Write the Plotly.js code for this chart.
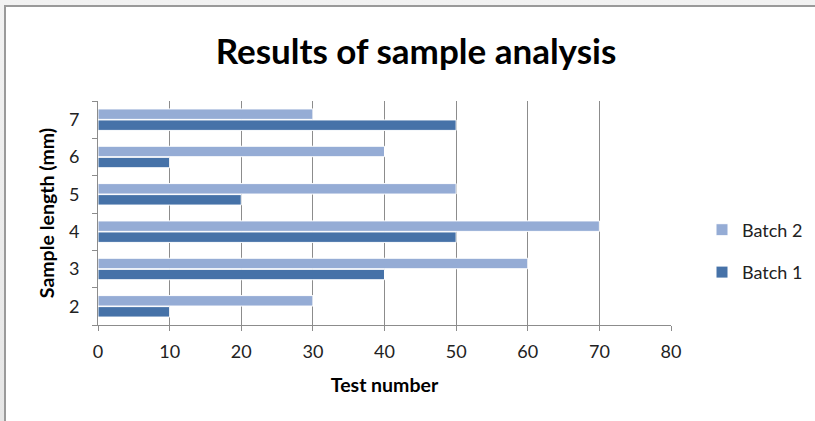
<!DOCTYPE html>
<html>
<head>
<meta charset="utf-8">
<script src="https://cdn.plot.ly/plotly-3.0.1.min.js"></script>
<style>
  html, body { margin: 0; padding: 0; width: 815px; height: 421px; overflow: hidden; }
  body { background: linear-gradient(to bottom, #f2f2f2, #e6e6e6); position: relative; }
  #frame { position: absolute; left: 4px; top: 5px; right: 0; bottom: 0; background: #fff;
           border-left: 2px solid #9a9a9a; border-top: 2px solid #9a9a9a; }
  #chart { position: absolute; left: 0; top: 0; width: 815px; height: 421px; }
</style>
</head>
<body>
<div id="frame"></div>
<div id="chart"></div>
<script>
var categories = ['2', '3', '4', '5', '6', '7'];
var batch1 = [10, 40, 50, 20, 10, 50];
var batch2 = [30, 60, 70, 50, 40, 30];
var seriesNames = ['Batch 1', 'Batch 2'];
var xTicks = [0, 10, 20, 30, 40, 50, 60, 70, 80];

var FONT = 'Lato, "Open Sans", sans-serif';

var traces = [
  {
    type: 'bar', orientation: 'h', name: seriesNames[0],
    y: categories, x: batch1, legendgroup: 'b1', legendrank: 2,
    marker: { color: '#4672a8', line: { color: '#ffffff', width: 1 } },
    hoverinfo: 'skip'
  },
  {
    type: 'bar', orientation: 'h', name: seriesNames[1],
    y: categories, x: batch2, legendgroup: 'b2', legendrank: 1,
    marker: { color: '#95acd5', line: { color: '#ffffff', width: 1 } },
    hoverinfo: 'skip'
  }
];

var layout = {
  width: 815, height: 421,
  paper_bgcolor: 'rgba(0,0,0,0)',
  plot_bgcolor: 'rgba(0,0,0,0)',
  margin: { l: 98, r: 144, t: 101, b: 96, pad: 0, autoexpand: false },
  barmode: 'group',
  bargap: 0.41,
  bargroupgap: 0.05,
  font: { family: FONT, color: '#222', size: 18 },
  title: {
    text: '<b>Results of sample analysis</b>',
    font: { family: FONT, size: 35, color: '#000' },
    x: 416 / 815, xref: 'container', xanchor: 'center',
    y: 1 - 52 / 421, yanchor: 'middle'
  },
  xaxis: {
    range: [0, 80],
    tickvals: xTicks,
    ticktext: xTicks.map(String),
    showgrid: true, gridcolor: '#8c8c8c', gridwidth: 1,
    zeroline: false,
    showline: true, linecolor: '#8c8c8c', linewidth: 1,
    ticks: 'outside', ticklen: 5, tickcolor: '#8c8c8c',
    ticklabelstandoff: 5,
    tickfont: { family: FONT, size: 18, color: '#222' },
    title: { text: '<b>Test number</b>', font: { family: FONT, size: 19.5, color: '#000' }, standoff: 17 },
    automargin: false,
    fixedrange: true
  },
  yaxis: {
    type: 'category',
    categoryorder: 'array', categoryarray: categories,
    showgrid: false,
    zeroline: false,
    showline: true, linecolor: '#8c8c8c', linewidth: 1,
    ticks: 'outside', ticklen: 5, tickcolor: '#8c8c8c',
    tickson: 'boundaries',
    ticklabelstandoff: 14,
    tickfont: { family: FONT, size: 18, color: '#222' },
    title: { text: '<b>Sample length (mm)</b>', font: { family: FONT, size: 19.5, color: '#000' }, standoff: 9 },
    automargin: false,
    fixedrange: true
  },
  showlegend: true,
  legend: {
    xref: 'container', yref: 'container',
    x: 702 / 815, xanchor: 'left',
    y: 1 - 251 / 421, yanchor: 'middle',
    traceorder: 'grouped',
    tracegroupgap: 16,
    font: { family: FONT, size: 18, color: '#222' },
    itemwidth: 30,
    bgcolor: 'rgba(0,0,0,0)'
  }
};

Plotly.newPlot('chart', traces, layout, { displayModeBar: false, staticPlot: true });
</script>
</body>
</html>
